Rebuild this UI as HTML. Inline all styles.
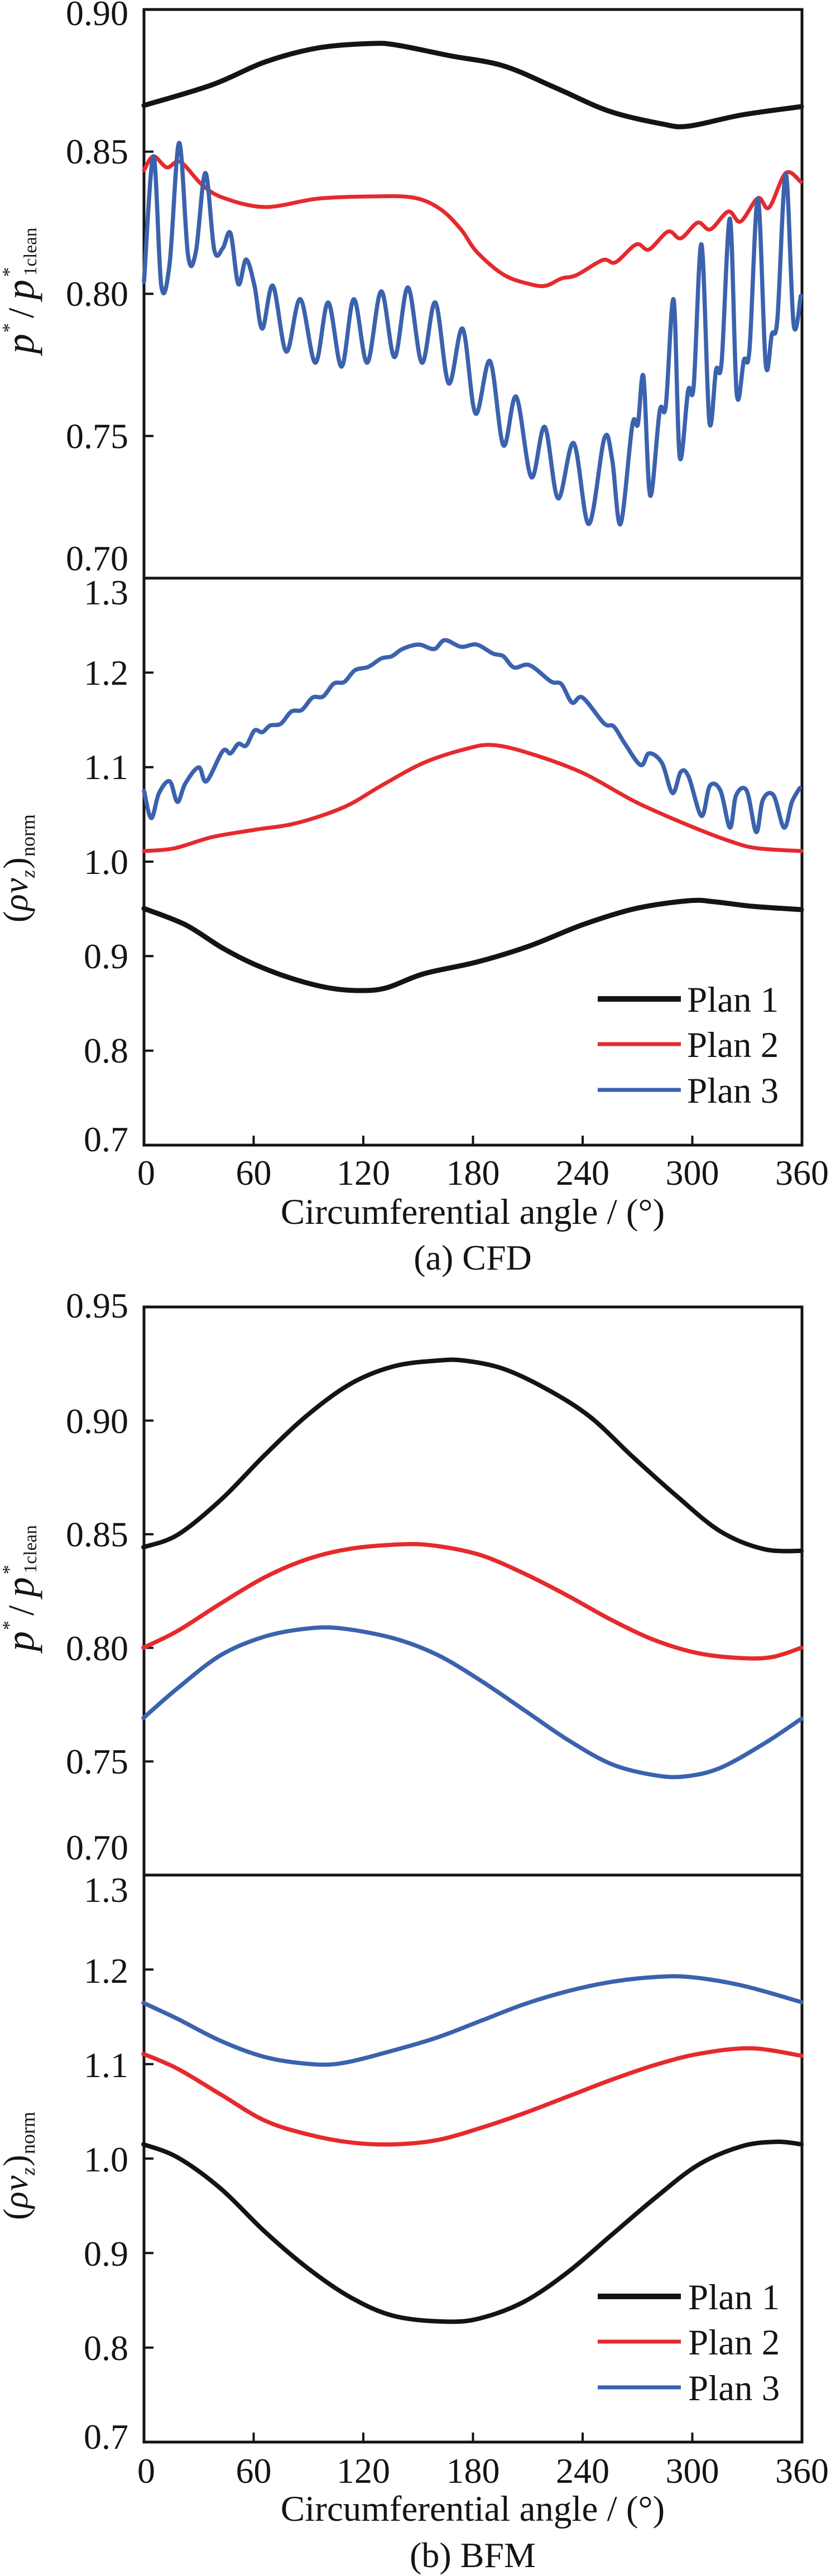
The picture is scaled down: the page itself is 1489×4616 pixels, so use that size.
<!DOCTYPE html>
<html>
<head>
<meta charset="utf-8">
<style>
html,body{margin:0;padding:0;background:#fff;}
svg{display:block;font-family:"Liberation Serif","Times New Roman",Times,serif;}
svg text{font-family:"Liberation Serif","Times New Roman",Times,serif;fill:#141414;}
.ax{fill:none;stroke:#141414;stroke-width:5;}
.tk{stroke:#141414;stroke-width:4;}
.s{fill:none;stroke-linejoin:round;stroke-linecap:round;}
.k{stroke:#141414;stroke-width:9;}
.r{stroke:#e52a2e;stroke-width:7;}
.b{stroke:#3b62ad;stroke-width:7.5;}
.kb{stroke:#141414;stroke-width:8;}
.rb{stroke:#e52a2e;stroke-width:7.5;}
.bb{stroke:#3b62ad;stroke-width:7.5;}
.tl{font-size:64px;text-anchor:end;}
.xl{font-size:64px;text-anchor:middle;}
.ti{font-size:65px;text-anchor:middle;}
.lg{font-size:65px;}
</style>
</head>
<body>
<svg width="1489" height="4616" viewBox="0 0 1489 4616" xmlns="http://www.w3.org/2000/svg" font-family="Liberation Serif, Times New Roman, Times, serif">
<rect x="0" y="0" width="1489" height="4616" fill="#fff"/>

<!-- ============ PANEL (a) CFD ============ -->
<rect class="ax" x="258" y="17" width="1179" height="2035"/>
<line class="ax" x1="258" y1="1036" x2="1437" y2="1036"/>
<line class="tk" x1="258" y1="271.8" x2="275" y2="271.8"/>
<line class="tk" x1="258" y1="526.5" x2="275" y2="526.5"/>
<line class="tk" x1="258" y1="781.3" x2="275" y2="781.3"/>
<line class="tk" x1="258" y1="1205.3" x2="275" y2="1205.3"/>
<line class="tk" x1="258" y1="1374.7" x2="275" y2="1374.7"/>
<line class="tk" x1="258" y1="1544" x2="275" y2="1544"/>
<line class="tk" x1="258" y1="1713.3" x2="275" y2="1713.3"/>
<line class="tk" x1="258" y1="1882.7" x2="275" y2="1882.7"/>
<line class="tk" x1="454.5" y1="2052" x2="454.5" y2="2035"/>
<line class="tk" x1="651" y1="2052" x2="651" y2="2035"/>
<line class="tk" x1="847.5" y1="2052" x2="847.5" y2="2035"/>
<line class="tk" x1="1044" y1="2052" x2="1044" y2="2035"/>
<line class="tk" x1="1240.5" y1="2052" x2="1240.5" y2="2035"/>

<g font-family="Liberation Serif, Times New Roman, Times, serif">
<text class="tl" x="230" y="45">0.90</text>
<text class="tl" x="230" y="293">0.85</text>
<text class="tl" x="230" y="548">0.80</text>
<text class="tl" x="230" y="803">0.75</text>
<text class="tl" x="230" y="1022">0.70</text>
<text class="tl" x="230" y="1083">1.3</text>
<text class="tl" x="230" y="1227">1.2</text>
<text class="tl" x="230" y="1396">1.1</text>
<text class="tl" x="230" y="1566">1.0</text>
<text class="tl" x="230" y="1735">0.9</text>
<text class="tl" x="230" y="1904">0.8</text>
<text class="tl" x="230" y="2063">0.7</text>

<text class="xl" x="262" y="2123">0</text>
<text class="xl" x="454.5" y="2123">60</text>
<text class="xl" x="651" y="2123">120</text>
<text class="xl" x="847.5" y="2123">180</text>
<text class="xl" x="1044" y="2123">240</text>
<text class="xl" x="1240.5" y="2123">300</text>
<text class="xl" x="1437" y="2123">360</text>
<text class="ti" x="847" y="2193">Circumferential angle / (°)</text>
<text class="ti" x="847" y="2275" style="font-size:64px">(a) CFD</text>
</g>

<g transform="translate(60,634) rotate(-90)" font-family="Liberation Serif, Times New Roman, Times, serif">
  <text x="0" y="0" font-style="italic" font-size="72">p</text>
  <text x="38" y="-33" font-size="34">*</text>
  <text x="64" y="0" font-size="66">/</text>
  <text x="97" y="0" font-style="italic" font-size="72">p</text>
  <text x="138" y="-33" font-size="34">*</text>
  <text x="140" y="5" font-size="33">1clean</text>
</g>
<g transform="translate(49,1653) rotate(-90)" font-family="Liberation Serif, Times New Roman, Times, serif">
  <text x="0" y="0" font-size="62">(</text>
  <text x="21" y="0" font-size="62" font-style="italic">ρ</text>
  <text x="52" y="0" font-size="62" font-style="italic">v</text>
  <text x="80" y="13" font-size="36" font-style="italic">z</text>
  <text x="96" y="0" font-size="62">)</text>
  <text x="118" y="13" font-size="36">norm</text>
</g>

<polyline class="s k" points="258,189 380,152 475,111 569,86 664,78 712,81 807,100 902,118 997,158 1091,199 1186,222 1234,226 1329,206 1436,191"/>
<polyline class="s r" points="258,305 275,280 299,300 323,290 361,330 399,354 475,371 569,356 664,352 740,354 788,374 826,411 854,451 902,492 949,509 978,512 1006,499 1033,493 1080,466 1103,470 1140,438 1163,447 1197,415 1220,427 1250,399 1273,411 1305,379 1327,397 1358,355 1378,372 1408,310 1435,326"/>
<polyline class="s b" points="258,505 275,280 289,512 304,472 321,256 337,458 351,451 368,310 384,448 399,445 413,418 427,509 441,465 456,512 470,589 489,512 513,630 538,536 565,650 588,542 612,657 634,536 658,650 683,522 707,640 731,515 756,650 780,542 804,687 829,589 852,741 878,647 902,798 925,711 952,855 976,765 1000,893 1028,794 1055,939 1083,785 1097,824 1112,939 1133,762 1143,760 1153,675 1165,888 1182,737 1193,727 1207,537 1218,819 1233,700 1243,691 1257,438 1271,755 1283,663 1293,649 1308,392 1320,705 1333,645 1343,626 1358,356 1372,652 1383,599 1393,571 1408,312 1422,581 1435,530"/>

<polyline class="s k" points="258,1628 332,1657 399,1699 456,1728 522,1753 588,1770 645,1775 693,1770 759,1745 854,1724 949,1695 1044,1657 1139,1628 1234,1614 1281,1616 1348,1624 1436,1630"/>
<polyline class="s r" points="258,1525 313,1520 380,1500 456,1487 531,1475 617,1446 683,1408 759,1367 835,1342 883,1335 949,1350 1044,1385 1139,1437 1234,1479 1310,1508 1357,1520 1436,1525"/>
<polyline class="s b" points="258,1417 271,1466 285,1421 304,1400 318,1437 332,1404 356,1375 370,1400 399,1346 413,1350 427,1333 441,1336 456,1309 470,1312 484,1300 503,1297 522,1275 541,1272 560,1250 579,1248 598,1225 617,1222 636,1201 660,1195 683,1180 702,1176 721,1163 750,1155 778,1163 797,1147 826,1159 854,1155 883,1171 902,1176 921,1196 949,1192 987,1221 1006,1226 1025,1259 1044,1250 1082,1296 1100,1302 1120,1333 1148,1371 1163,1350 1186,1367 1205,1421 1220,1383 1234,1392 1257,1462 1272,1408 1291,1417 1308,1483 1319,1425 1338,1417 1355,1491 1367,1433 1386,1425 1405,1483 1419,1437 1433,1412"/>

<line x1="1071" y1="1790" x2="1220" y2="1790" stroke="#141414" stroke-width="10"/>
<line x1="1071" y1="1871" x2="1220" y2="1871" stroke="#e52a2e" stroke-width="7"/>
<line x1="1071" y1="1953" x2="1220" y2="1953" stroke="#3b62ad" stroke-width="7"/>
<g font-family="Liberation Serif, Times New Roman, Times, serif">
<text class="lg" x="1231" y="1813">Plan 1</text>
<text class="lg" x="1231" y="1894">Plan 2</text>
<text class="lg" x="1231" y="1976">Plan 3</text>
</g>

<!-- ============ PANEL (b) BFM ============ -->
<rect class="ax" x="258" y="2342" width="1179" height="2034"/>
<line class="ax" x1="258" y1="3360" x2="1437" y2="3360"/>
<line class="tk" x1="258" y1="2545.6" x2="275" y2="2545.6"/>
<line class="tk" x1="258" y1="2749.2" x2="275" y2="2749.2"/>
<line class="tk" x1="258" y1="2952.8" x2="275" y2="2952.8"/>
<line class="tk" x1="258" y1="3156.4" x2="275" y2="3156.4"/>
<line class="tk" x1="258" y1="3529.3" x2="275" y2="3529.3"/>
<line class="tk" x1="258" y1="3698.7" x2="275" y2="3698.7"/>
<line class="tk" x1="258" y1="3868" x2="275" y2="3868"/>
<line class="tk" x1="258" y1="4037.3" x2="275" y2="4037.3"/>
<line class="tk" x1="258" y1="4206.7" x2="275" y2="4206.7"/>
<line class="tk" x1="454.5" y1="4376" x2="454.5" y2="4359"/>
<line class="tk" x1="651" y1="4376" x2="651" y2="4359"/>
<line class="tk" x1="847.5" y1="4376" x2="847.5" y2="4359"/>
<line class="tk" x1="1044" y1="4376" x2="1044" y2="4359"/>
<line class="tk" x1="1240.5" y1="4376" x2="1240.5" y2="4359"/>

<g font-family="Liberation Serif, Times New Roman, Times, serif">
<text class="tl" x="230" y="2361">0.95</text>
<text class="tl" x="230" y="2568">0.90</text>
<text class="tl" x="230" y="2771">0.85</text>
<text class="tl" x="230" y="2975">0.80</text>
<text class="tl" x="230" y="3178">0.75</text>
<text class="tl" x="230" y="3332">0.70</text>
<text class="tl" x="230" y="3408">1.3</text>
<text class="tl" x="230" y="3553">1.2</text>
<text class="tl" x="230" y="3722">1.1</text>
<text class="tl" x="230" y="3891">1.0</text>
<text class="tl" x="230" y="4060">0.9</text>
<text class="tl" x="230" y="4229">0.8</text>
<text class="tl" x="230" y="4388">0.7</text>

<text class="xl" x="262" y="4449">0</text>
<text class="xl" x="454.5" y="4449">60</text>
<text class="xl" x="651" y="4449">120</text>
<text class="xl" x="847.5" y="4449">180</text>
<text class="xl" x="1044" y="4449">240</text>
<text class="xl" x="1240.5" y="4449">300</text>
<text class="xl" x="1437" y="4449">360</text>
<text class="ti" x="847" y="4517">Circumferential angle / (°)</text>
<text class="ti" x="847" y="4600" style="font-size:64px">(b) BFM</text>
</g>

<g transform="translate(60,2959) rotate(-90)" font-family="Liberation Serif, Times New Roman, Times, serif">
  <text x="0" y="0" font-style="italic" font-size="72">p</text>
  <text x="38" y="-33" font-size="34">*</text>
  <text x="64" y="0" font-size="66">/</text>
  <text x="97" y="0" font-style="italic" font-size="72">p</text>
  <text x="138" y="-33" font-size="34">*</text>
  <text x="140" y="5" font-size="33">1clean</text>
</g>
<g transform="translate(49,3978) rotate(-90)" font-family="Liberation Serif, Times New Roman, Times, serif">
  <text x="0" y="0" font-size="62">(</text>
  <text x="21" y="0" font-size="62" font-style="italic">ρ</text>
  <text x="52" y="0" font-size="62" font-style="italic">v</text>
  <text x="80" y="13" font-size="36" font-style="italic">z</text>
  <text x="96" y="0" font-size="62">)</text>
  <text x="118" y="13" font-size="36">norm</text>
</g>

<polyline class="s kb" points="257,2772.5 317.8,2750.6 395.6,2687.7 473.5,2608.2 551.3,2535.4 629.1,2479.1 706.9,2448 784.7,2438 831.4,2438 901.5,2452.6 979.3,2489 1057.1,2538.7 1134.9,2611.6 1212.8,2681.1 1290.6,2744 1368.4,2775.8 1436.1,2779.1"/>
<polyline class="s rb" points="257,2952.6 317.8,2922.8 395.6,2873.2 473.5,2826.8 551.3,2793.7 629.1,2775.1 722.5,2767.2 784.7,2770.5 862.6,2787.1 940.4,2820.2 1018.2,2859.9 1096,2903 1173.9,2939.4 1251.7,2962.6 1329.5,2971.2 1384,2969.2 1436.1,2952.6"/>
<polyline class="s bb" points="257,3078.5 317.8,3025.5 395.6,2965.9 473.5,2932.8 551.3,2918.2 613.5,2918.2 706.9,2936.1 784.7,2965.9 862.6,3012.3 940.4,3065.2 1018.2,3118.2 1096,3161.3 1173.9,3181.2 1228.3,3183.1 1290.6,3167.9 1368.4,3124.8 1436.1,3079.8"/>

<polyline class="s bb" points="257,3589 317.8,3617.5 395.6,3657.2 473.5,3685.7 551.3,3698.2 613.5,3696.9 706.9,3673.7 784.7,3650.6 862.6,3620.8 940.4,3591 1018.2,3567.8 1096,3551.3 1173.9,3542.7 1236.1,3542.7 1329.5,3557.9 1436.1,3587.7"/>
<polyline class="s rb" points="257,3680.4 317.8,3706.8 395.6,3753.2 473.5,3799.5 551.3,3824.6 629.1,3839.2 706.9,3842.5 784.7,3834.6 862.6,3812.7 940.4,3786.3 1018.2,3756.5 1096,3726.7 1173.9,3700.2 1251.7,3680.4 1345.1,3670.4 1436.1,3683.7"/>
<polyline class="s kb" points="257,3842.5 317.8,3865.7 395.6,3921.9 473.5,3998.1 551.3,4064.3 629.1,4117.2 706.9,4150.3 800.3,4160.2 862.6,4153.6 940.4,4123.8 1018.2,4070.9 1096,4004.7 1173.9,3938.5 1251.7,3878.9 1329.5,3845.8 1391.8,3837.9 1436.1,3842.5"/>

<line x1="1071" y1="4115" x2="1220" y2="4115" stroke="#141414" stroke-width="10"/>
<line x1="1071" y1="4196" x2="1220" y2="4196" stroke="#e52a2e" stroke-width="7"/>
<line x1="1071" y1="4278" x2="1220" y2="4278" stroke="#3b62ad" stroke-width="7"/>
<g font-family="Liberation Serif, Times New Roman, Times, serif">
<text class="lg" x="1233" y="4138">Plan 1</text>
<text class="lg" x="1233" y="4219">Plan 2</text>
<text class="lg" x="1233" y="4301">Plan 3</text>
</g>
</svg>
<script>
(function(){
  try{
    var NS='http://www.w3.org/2000/svg';
    var pls=document.querySelectorAll('polyline.s');
    for(var n=0;n<pls.length;n++){
      var pl=pls[n];
      var nums=pl.getAttribute('points').trim().split(/[\s,]+/).map(Number);
      var p=[];
      for(var i=0;i+1<nums.length;i+=2)p.push([nums[i],nums[i+1]]);
      if(p.length<3)continue;
      var d='M'+p[0][0]+' '+p[0][1];
      for(var j=0;j<p.length-1;j++){
        var p0=p[j-1]||p[j],p1=p[j],p2=p[j+1],p3=p[j+2]||p[j+1];
        var c1x=p1[0]+(p2[0]-p0[0])/6,c1y=p1[1]+(p2[1]-p0[1])/6;
        var c2x=p2[0]-(p3[0]-p1[0])/6,c2y=p2[1]-(p3[1]-p1[1])/6;
        d+=' C'+c1x.toFixed(1)+' '+c1y.toFixed(1)+' '+c2x.toFixed(1)+' '+c2y.toFixed(1)+' '+p2[0]+' '+p2[1];
      }
      var path=document.createElementNS(NS,'path');
      path.setAttribute('d',d);
      path.setAttribute('class',pl.getAttribute('class'));
      pl.parentNode.replaceChild(path,pl);
    }
  }catch(e){}
})();
</script>
</body>
</html>
